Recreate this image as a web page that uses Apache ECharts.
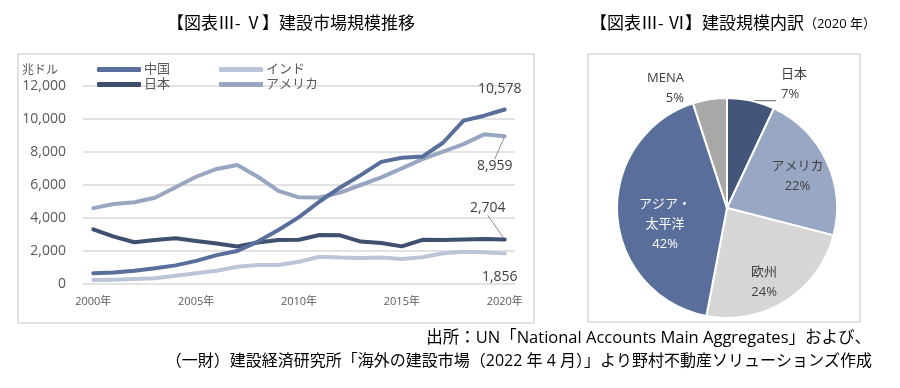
<!DOCTYPE html>
<html><head><meta charset="utf-8">
<script src="https://cdn.jsdelivr.net/npm/echarts@6/dist/echarts.min.js"></script>
<style>html,body{margin:0;padding:0;background:#fff}#c{width:900px;height:388px}</style>
</head><body><div id="c"></div>
<script>
const years = ['2000年','2001年','2002年','2003年','2004年','2005年','2006年','2007年','2008年','2009年','2010年','2011年','2012年','2013年','2014年','2015年','2016年','2017年','2018年','2019年','2020年'];
const china   = [650, 700, 800, 950, 1130, 1400, 1750, 2000, 2570, 3270, 4050, 5000, 5850, 6600, 7400, 7650, 7720, 8560, 9900, 10200, 10578];
const india   = [240, 260, 300, 350, 500, 650, 800, 1050, 1150, 1150, 1350, 1650, 1600, 1580, 1600, 1520, 1620, 1860, 1960, 1930, 1856];
const japan   = [3310, 2870, 2530, 2670, 2770, 2600, 2450, 2270, 2520, 2670, 2680, 2970, 2950, 2570, 2480, 2280, 2680, 2660, 2690, 2730, 2704];
const america = [4600, 4850, 4950, 5230, 5860, 6500, 6970, 7210, 6500, 5640, 5250, 5240, 5540, 6000, 6460, 7010, 7570, 8020, 8480, 9070, 8959];
const yTicks = [0, 2000, 4000, 6000, 8000, 10000, 12000];

const pieNames  = ['日本', 'アメリカ', '欧州', 'アジア・太平洋', 'MENA'];
const pieLabels = ['日本', 'アメリカ', '欧州', 'アジア・\n太平洋', 'MENA'];
const pieValues = [7, 22, 24, 42, 5];

const FONT = '"Open Sans", "Noto Sans CJK JP", sans-serif';
const C = { china:'#5a6e9c', india:'#bcc5d7', japan:'#3f4f70', america:'#98a6c2' };
const pieColors = ['#44557a', '#98a7c3', '#d6d6d6', '#5a6e9c', '#aaa7a7'];

const endLabel = {
  china:   { dx: -5,  dy: -7,  line: false, pos: 'top' },
  america: { dx: -10, dy: 17,  line: true,  pos: 'bottom' },
  japan:   { dx: -17, dy: -18, line: true,  pos: 'top' },
  india:   { dx: -5,  dy: 11,  line: false, pos: 'bottom' }
};

function mkData(arr, key) {
  const last = arr.length - 1;
  const cfg = endLabel[key];
  return arr.map((v, i) => i !== last ? { value: v, symbol: 'none' } : {
    value: v,
    symbol: 'circle', symbolSize: 2,
    label: { show: true, position: cfg.pos, distance: 5, fontSize: 14, color: '#404040', fontFamily: FONT,
             formatter: p => p.value.toLocaleString('en-US') },
    labelLine: { show: cfg.line, lineStyle: { color: '#8c8c8c', width: 1 } }
  });
}
function mkLine(name, arr, key) {
  return {
    name, type: 'line', data: mkData(arr, key), symbol: 'circle', symbolSize: 2, showSymbol: true, smooth: false,
    lineStyle: { width: 4, color: C[key], cap: 'round', join: 'round' },
    itemStyle: { color: C[key] },
    labelLayout: () => ({ dx: endLabel[key].dx, dy: endLabel[key].dy }),
    z: 2
  };
}

const chart = echarts.init(document.getElementById('c'), null, { renderer: 'canvas' });
chart.setOption({
  animation: false,
  textStyle: { fontFamily: FONT },
  grid: { left: 83, right: 385, top: 86, bottom: 104, containLabel: false },
  legend: [
    { orient: 'vertical', left: 92, top: 58, itemWidth: 44, itemHeight: 5, itemGap: 2, icon: 'roundRect',
      data: ['中国', '日本'], textStyle: { fontSize: 13, color: '#595959', padding: [0,0,0,-2] } },
    { orient: 'vertical', left: 214, top: 58, itemWidth: 44, itemHeight: 5, itemGap: 2, icon: 'roundRect',
      data: ['インド', 'アメリカ'], textStyle: { fontSize: 13, color: '#595959', padding: [0,0,0,-2] } }
  ],
  xAxis: {
    type: 'category', data: years, boundaryGap: true,
    axisLine: { show: false }, axisTick: { show: false },
    axisLabel: { interval: 4, fontSize: 11, color: '#595959', margin: 12 }
  },
  yAxis: {
    type: 'value', min: yTicks[0], max: yTicks[yTicks.length - 1], interval: 2000,
    name: '兆ドル', nameLocation: 'end', nameGap: 9,
    nameTextStyle: { fontSize: 12, color: '#595959', align: 'right', padding: [0, 25, 0, 0] },
    axisLine: { show: false }, axisTick: { show: false },
    axisLabel: { fontSize: 14, color: '#595959', margin: 17, formatter: v => v.toLocaleString('en-US') },
    splitLine: { lineStyle: { color: '#d9d9d9', width: 1.5 } }
  },
  series: [
    mkLine('インド', india, 'india'),
    mkLine('アメリカ', america, 'america'),
    mkLine('日本', japan, 'japan'),
    mkLine('中国', china, 'china'),
    {
      type: 'pie', center: [727, 208], radius: 110, startAngle: 90, clockwise: true,
      avoidLabelOverlap: false,
      itemStyle: { borderColor: '#fff', borderWidth: 2 },
      label: { position: 'inside', fontSize: 13, color: '#404040', lineHeight: 20, fontFamily: FONT,
               formatter: p => {
                 if (p.dataIndex === 4) return '{a|' + pieLabels[4] + '}\n{a|' + p.value + '%}\n{c| }';
                 return pieLabels[p.dataIndex] + '\n' + p.value + '%';
               },
               rich: {
                 a: { fontSize: 13, lineHeight: 20, color: '#404040', fontFamily: FONT },
                 c: { fontSize: 10, lineHeight: 12 }
               } },
      labelLayout: p => {
        const d = { 0: [0, -16], 1: [18, -7], 2: [6, 25], 3: [-4, 13] }[p.dataIndex];
        return d ? { dx: d[0], dy: d[1] } : {};
      },
      data: pieNames.map((n, i) => {
        const item = { name: n, value: pieValues[i], itemStyle: { color: pieColors[i] } };
        if (i === 0) {
          item.label = { position: 'outside', align: 'left', color: '#404040' };
          item.labelLine = { show: true, length: 0, length2: 25, smooth: false, minTurnAngle: 0,
                             lineStyle: { color: '#7f7f7f', width: 1.2 } };
        } else if (i === 4) {
          item.label = { position: 'outside', align: 'right', color: '#404040' };
          item.labelLine = { show: false, length: 5, length2: 20 };
        } else if (i === 3) {
          item.label = { color: '#ffffff' };
        }
        return item;
      })
    }
  ],
  graphic: [
    { type: 'rect', shape: { x: 18, y: 54, width: 516, height: 269 }, style: { fill: 'none', stroke: '#d9d9d9', lineWidth: 1.5 }, z: -10 },
    { type: 'rect', shape: { x: 588, y: 54, width: 272, height: 268 }, style: { fill: 'none', stroke: '#d9d9d9', lineWidth: 1.5 }, z: -10 },
    { type: 'text', x: 291, y: 24, style: { text: '【図表Ⅲ- Ⅴ】建設市場規模推移', fontSize: 17, fontFamily: FONT, fill: '#000', align: 'center', verticalAlign: 'middle' } },
    { type: 'text', x: 590, y: 24, style: { text: '【図表Ⅲ- Ⅵ】建設規模内訳{s|（2020 年）}', fontSize: 17, fontFamily: FONT, fill: '#000', align: 'left', verticalAlign: 'middle',
        rich: { s: { fontSize: 13, fontFamily: FONT, fill: '#000' } } } },
    { type: 'text', x: 871, y: 338, style: { text: '出所：UN「National Accounts Main Aggregates」および、', fontSize: 16.5, fontFamily: FONT, fill: '#000', align: 'right', verticalAlign: 'middle' } },
    { type: 'text', x: 872, y: 361, style: { text: '（一財）建設経済研究所「海外の建設市場（2022 年 4 月）」より野村不動産ソリューションズ作成', fontSize: 16, fontFamily: FONT, fill: '#000', align: 'right', verticalAlign: 'middle' } }
  ]
});
</script>
</body></html>
